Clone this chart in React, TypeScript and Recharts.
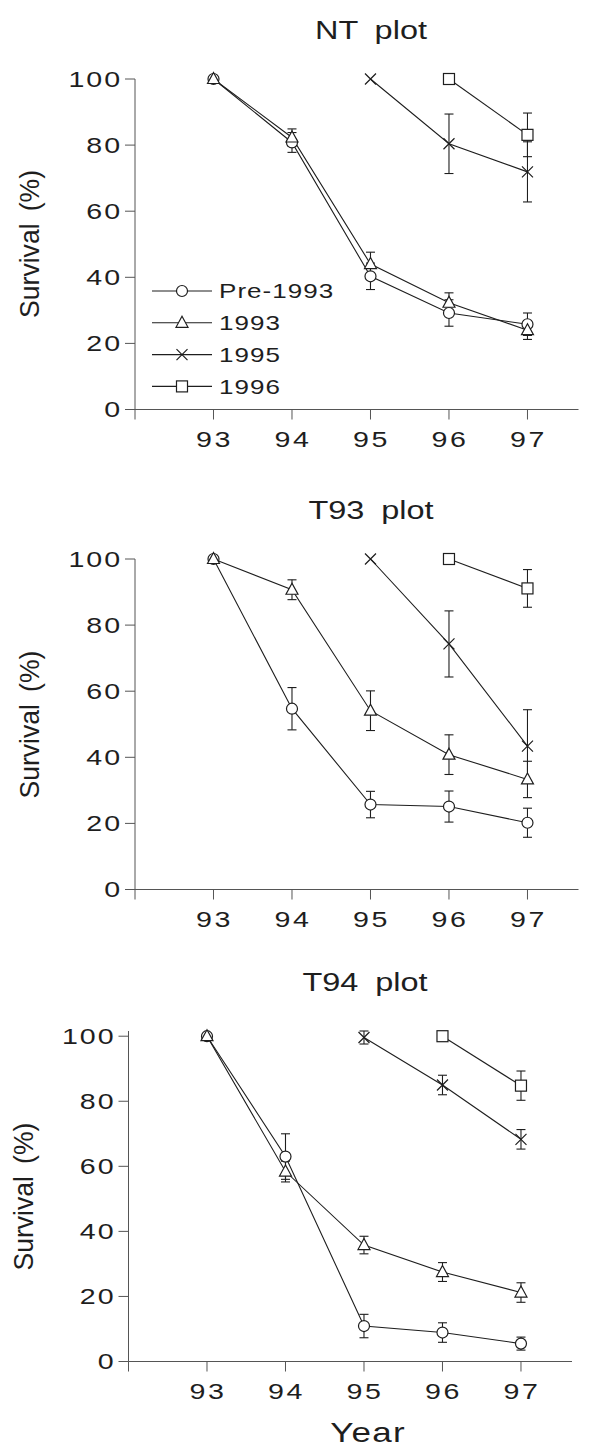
import React from 'react'
import { LineChart, Line, XAxis, YAxis, ErrorBar, Legend } from 'recharts'

const years = [93, 94, 95, 96, 97]
const xTicks = [92, 93, 94, 95, 96, 97]
const yTicks = [0, 20, 40, 60, 80, 100]
const seriesNames = ['Pre-1993', '1993', '1995', '1996']

// NT plot
const ntPre = [100, 80.8, 40.3, 29.2, 25.8]
const ntPreErr = [0, 3, 4, 4, 3.4]
const nt93 = [100, 82.3, 44, 32.3, 24]
const nt93Err = [0, 2.6, 3.6, 3, 2.8]
const nt95 = [null, null, 100, 80.4, 71.9]
const nt95Err = [0, 0, 0, 9, 9.1]
const nt96 = [null, null, null, 100, 83.1]
const nt96Err = [0, 0, 0, 0, 6.6]

// T93 plot
const t93Pre = [100, 54.7, 25.7, 25.1, 20.2]
const t93PreErr = [0, 6.4, 4, 4.7, 4.4]
const t9393 = [100, 90.7, 54.1, 40.8, 33.3]
const t9393Err = [0, 3, 6, 6, 5.5]
const t9395 = [null, null, 100, 74.3, 43.4]
const t9395Err = [0, 0, 0, 10, 11]
const t9396 = [null, null, null, 100, 91.1]
const t9396Err = [0, 0, 0, 0, 5.7]

// T94 plot
const t94Pre = [100, 63, 10.9, 8.9, 5.5]
const t94PreErr = [0, 7, 3.6, 3, 2]
const t9493 = [100, 58.4, 35.8, 27.5, 21.2]
const t9493Err = [0, 3.2, 2.7, 2.9, 3]
const t9495 = [null, null, 99.6, 85, 68.3]
const t9495Err = [0, 0, 2, 3, 3]
const t9496 = [null, null, null, 100, 84.8]
const t9496Err = [0, 0, 0, 0, 4.5]

const FONT = '"Liberation Sans", Arial, sans-serif'
const INK = '#1e1e1e'
const AXIS = '#555'

function buildRows(pre, preE, s93, s93E, s95, s95E, s96, s96E) {
  return years.map((year, i) => ({
    year,
    pre: pre[i],
    preErr: preE[i],
    s93: s93[i],
    s93Err: s93E[i],
    s95: s95[i],
    s95Err: s95E[i],
    s96: s96[i],
    s96Err: s96E[i],
  }))
}

function drawMarker(shape: string, cx: number, cy: number, key?: any) {
  const common = { fill: '#fff', stroke: INK, strokeWidth: 1.2 }
  if (shape === 'circle') return <circle key={key} cx={cx} cy={cy} r={5.5} {...common} />
  if (shape === 'triangle')
    return (
      <polygon
        key={key}
        points={`${cx},${cy - 6.5} ${cx - 6},${cy + 4.5} ${cx + 6},${cy + 4.5}`}
        {...common}
      />
    )
  if (shape === 'square')
    return <rect key={key} x={cx - 5.5} y={cy - 5.5} width={11} height={11} {...common} />
  return (
    <path
      key={key}
      d={`M${cx - 5.5},${cy - 5.5}L${cx + 5.5},${cy + 5.5}M${cx - 5.5},${cy + 5.5}L${cx + 5.5},${cy - 5.5}`}
      stroke={INK}
      strokeWidth={1.2}
      fill="none"
    />
  )
}

const dotFor = (shape: string) => (p: any) => {
  const { cx, cy, index, value } = p
  if (cx == null || cy == null || value == null || Number.isNaN(cy)) return <g key={`e${index}`} />
  return drawMarker(shape, cx, cy, `d${index}`)
}

function XTick({ x, y, payload }: any) {
  if (payload.value === 92) return null
  return (
    <text
      transform={`translate(${x + 1},${y}) scale(1.3,1)`}
      textAnchor="middle"
      dy="0.71em"
      fontSize={22}
      letterSpacing={2}
      fill={INK}
      fontFamily={FONT}
    >
      {payload.value}
    </text>
  )
}

function YTick({ x, y, payload }: any) {
  return (
    <text
      transform={`translate(${x + 2},${y}) scale(1.3,1)`}
      textAnchor="end"
      dy="0.36em"
      fontSize={22}
      letterSpacing={1.5}
      fill={INK}
      fontFamily={FONT}
    >
      {payload.value}
    </text>
  )
}

const legendShapes = ['circle', 'triangle', 'cross', 'square']

function LegendBox() {
  return (
    <svg width={200} height={130}>
      {seriesNames.map((name, i) => {
        const cy = 16 + i * 31.8
        return (
          <g key={name}>
            <line x1={12} x2={72} y1={cy} y2={cy} stroke={INK} strokeWidth={1.1} />
            {drawMarker(legendShapes[i], 42, cy)}
            <text
              transform={`translate(79,${cy + 7.3}) scale(1.3,1)`}
              fontSize={20}
              letterSpacing={0.8}
              fill={INK}
              fontFamily={FONT}
            >
              {name}
            </text>
          </g>
        )
      })}
    </svg>
  )
}

const PLOT_H = 330.5
const PLOT_W = 443.5

function Panel({ rows, plotTop, axisX, legend }: any) {
  const top = plotTop - 60
  return (
    <div style={{ position: 'absolute', left: 0, top }}>
      <LineChart
        width={596}
        height={PLOT_H + 120}
        data={rows}
        margin={{ top: 60, bottom: 10, left: axisX - 60, right: 596 - axisX - PLOT_W }}
      >
        <XAxis
          type="number"
          dataKey="year"
          domain={[92, 97.65]}
          ticks={xTicks}
          interval={0}
          allowDataOverflow
          height={50}
          tickSize={10}
          tickMargin={12}
          tick={<XTick />}
          stroke={AXIS}
        />
        <YAxis
          type="number"
          domain={[0, 100]}
          ticks={yTicks}
          interval={0}
          width={60}
          tickSize={10}
          tickMargin={5}
          tick={<YTick />}
          stroke={AXIS}
        />
        {legend && (
          <Legend
            layout="horizontal"
            verticalAlign="middle"
            align="center"
            content={() => <LegendBox />}
            wrapperStyle={{ left: 140, top: 256, width: 200, height: 130 }}
          />
        )}
        <Line dataKey="pre" stroke={INK} strokeWidth={1.1} dot={dotFor('circle')} activeDot={false} isAnimationActive={false}>
          <ErrorBar dataKey="preErr" width={4.5} stroke={INK} strokeWidth={1.1} direction="y" />
        </Line>
        <Line dataKey="s93" stroke={INK} strokeWidth={1.1} dot={dotFor('triangle')} activeDot={false} isAnimationActive={false}>
          <ErrorBar dataKey="s93Err" width={4.5} stroke={INK} strokeWidth={1.1} direction="y" />
        </Line>
        <Line dataKey="s95" stroke={INK} strokeWidth={1.1} dot={dotFor('cross')} activeDot={false} isAnimationActive={false}>
          <ErrorBar dataKey="s95Err" width={4.5} stroke={INK} strokeWidth={1.1} direction="y" />
        </Line>
        <Line dataKey="s96" stroke={INK} strokeWidth={1.1} dot={dotFor('square')} activeDot={false} isAnimationActive={false}>
          <ErrorBar dataKey="s96Err" width={4.5} stroke={INK} strokeWidth={1.1} direction="y" />
        </Line>
      </LineChart>
    </div>
  )
}

const panels = [
  { title: 'NT plot', plotTop: 78.7, axisX: 135, titleX: 371, rows: buildRows(ntPre, ntPreErr, nt93, nt93Err, nt95, nt95Err, nt96, nt96Err), legend: true },
  { title: 'T93 plot', plotTop: 559.3, axisX: 135, titleX: 371, rows: buildRows(t93Pre, t93PreErr, t9393, t9393Err, t9395, t9395Err, t9396, t9396Err), legend: false },
  { title: 'T94 plot', plotTop: 1031.3, axisX: 128.5, titleX: 365, rows: buildRows(t94Pre, t94PreErr, t9493, t9493Err, t9495, t9495Err, t9496, t9496Err), legend: false },
]

export default function App() {
  return (
    <div style={{ position: 'absolute', left: 0, top: 0, width: 596, height: 1448, background: '#fff', overflow: 'hidden' }}>
      {panels.map((p) => (
        <Panel key={p.title} rows={p.rows} plotTop={p.plotTop} axisX={p.axisX} legend={p.legend} />
      ))}
      <svg width={596} height={1448} style={{ position: 'absolute', left: 0, top: 0, pointerEvents: 'none' }}>
        {panels.map((p) => (
          <g key={p.title}>
            <text
              transform={`translate(${p.titleX},${p.plotTop - 40}) scale(1.3,1)`}
              textAnchor="middle"
              fontSize={25}
              wordSpacing={6}
              fill={INK}
              fontFamily={FONT}
            >
              {p.title}
            </text>
            <text
              transform={`translate(${p.axisX - 96},${p.plotTop + PLOT_H / 2}) rotate(-90) scale(0.95,1)`}
              textAnchor="middle"
              fontSize={28}
              wordSpacing={5}
              fill={INK}
              fontFamily={FONT}
            >
              Survival (%)
            </text>
          </g>
        ))}
        <text
          transform="translate(368,1442) scale(1.25,1)"
          textAnchor="middle"
          fontSize={28}
          letterSpacing={1}
          fill={INK}
          fontFamily={FONT}
        >
          Year
        </text>
      </svg>
    </div>
  )
}
